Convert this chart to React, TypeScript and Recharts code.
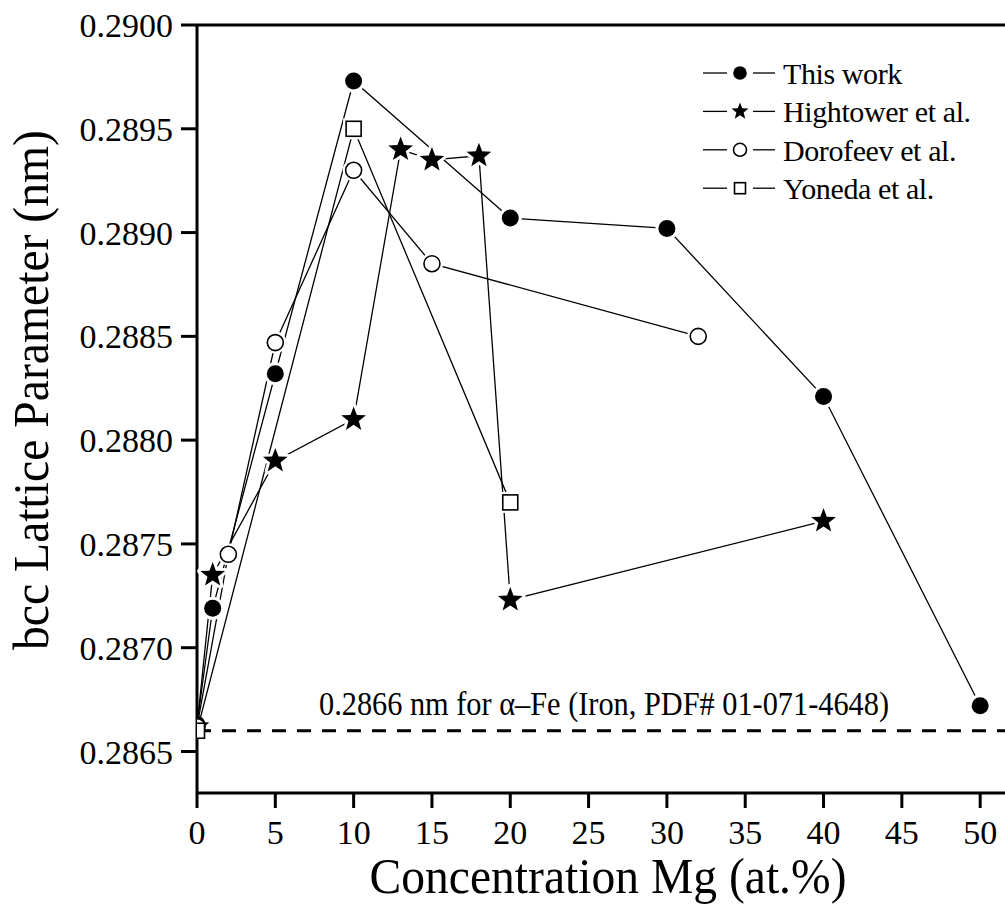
import React from 'react';
import { LineChart, Line, XAxis, YAxis, ReferenceLine, Legend } from 'recharts';

// Mg content (at.%) and bcc lattice parameter (nm) for each data set
const thisWorkMg = [0, 1, 5, 10, 20, 30, 40, 50];
const thisWorkA = [0.28663, 0.28719, 0.28832, 0.28973, 0.28907, 0.28902, 0.28821, 0.28672];

const hightowerMg = [0, 1, 5, 10, 13, 15, 18, 20, 40];
const hightowerA = [0.28662, 0.28735, 0.2879, 0.2881, 0.2894, 0.28935, 0.28937, 0.28723, 0.28761];

const dorofeevMg = [0, 2, 5, 10, 15, 32];
const dorofeevA = [0.28662, 0.28745, 0.28847, 0.2893, 0.28885, 0.2885];

const yonedaMg = [0, 10, 20];
const yonedaA = [0.2866, 0.2895, 0.2877];

const xMajor = [0, 5, 10, 15, 20, 25, 30, 35, 40, 45, 50];
const xMinor = [2.5, 7.5, 12.5, 17.5, 22.5, 27.5, 32.5, 37.5, 42.5, 47.5];
const yMajor = [0.2865, 0.287, 0.2875, 0.288, 0.2885, 0.289, 0.2895, 0.29];
const yMinor = [0.28675, 0.28725, 0.28775, 0.28825, 0.28875, 0.28925, 0.28975];

const ironA = 0.2866;
const ironNote = '0.2866 nm for \u03b1\u2013Fe (Iron, PDF# 01-071-4648)';

const FONT = "'Liberation Serif', 'Times New Roman', serif";

type Kind = 'disc' | 'star' | 'ring' | 'box';

const toPoints = (xs: number[], ys: number[]) => xs.map((x, i) => ({ x, a: ys[i] }));

const SERIES: { name: string; kind: Kind; data: { x: number; a: number }[] }[] = [
  { name: 'This work', kind: 'disc', data: toPoints(thisWorkMg, thisWorkA) },
  { name: 'Hightower et al.', kind: 'star', data: toPoints(hightowerMg, hightowerA) },
  { name: 'Dorofeev et al.', kind: 'ring', data: toPoints(dorofeevMg, dorofeevA) },
  { name: 'Yoneda et al.', kind: 'box', data: toPoints(yonedaMg, yonedaA) },
];

const starPath = (cx: number, cy: number, R: number) => {
  const pts: string[] = [];
  for (let i = 0; i < 10; i++) {
    const ang = (-90 + i * 36) * Math.PI / 180;
    const r = i % 2 ? R * 0.42 : R;
    pts.push(`${cx + r * Math.cos(ang)},${cy + r * Math.sin(ang)}`);
  }
  return pts.join(' ');
};

// symbol drawn on each point; the white halo leaves a small gap in the line
function Marker({ kind, cx, cy, size, halo }: { kind: Kind; cx: number; cy: number; size: number; halo: boolean }) {
  const h = 3;
  if (kind === 'disc') {
    return (
      <g>
        {halo && <circle cx={cx} cy={cy} r={size + h} fill="#fff" />}
        <circle cx={cx} cy={cy} r={size} fill="#000" />
      </g>
    );
  }
  if (kind === 'ring') {
    return (
      <g>
        {halo && <circle cx={cx} cy={cy} r={size + h} fill="#fff" />}
        <circle cx={cx} cy={cy} r={size} fill="#fff" stroke="#000" strokeWidth={1.6} />
      </g>
    );
  }
  if (kind === 'box') {
    return (
      <g>
        {halo && <rect x={cx - size - h} y={cy - size - h} width={2 * (size + h)} height={2 * (size + h)} fill="#fff" />}
        <rect x={cx - size} y={cy - size} width={2 * size} height={2 * size} fill="#fff" stroke="#000" strokeWidth={1.6} />
      </g>
    );
  }
  return (
    <g>
      {halo && <polygon points={starPath(cx, cy, size)} fill="#fff" stroke="#fff" strokeWidth={6} strokeLinejoin="round" />}
      <polygon points={starPath(cx, cy, size)} fill="#000" />
    </g>
  );
}

const plotSize: Record<Kind, number> = { disc: 8.5, star: 13, ring: 8, box: 7.5 };
const legendSize: Record<Kind, number> = { disc: 6.8, star: 9, ring: 6.5, box: 5.5 };

const makeDot = (kind: Kind) => (p: any) => (
  <Marker
    key={`${kind}-${p.index}`}
    kind={kind}
    cx={p.cx}
    cy={p.cy}
    size={plotSize[kind]}
    halo={p.payload && p.payload.x !== 0}
  />
);

const LegendBox = () => (
  <svg width={298} height={160}>
    {SERIES.map((s, i) => {
      const y = 13 + i * 38.4;
      return (
        <g key={s.name}>
          <line x1={0} x2={24} y1={y} y2={y} stroke="#000" strokeWidth={1.3} />
          <line x1={50} x2={72} y1={y} y2={y} stroke="#000" strokeWidth={1.3} />
          <Marker kind={s.kind} cx={37} cy={y} size={legendSize[s.kind]} halo={false} />
          <text x={80} y={y + 11} fontSize={30} style={{ fontFamily: FONT, letterSpacing: -0.4 }} fill="#000">
            {s.name}
          </text>
        </g>
      );
    })}
  </svg>
);

const tickStyle = { fontSize: 34, fontFamily: FONT, fill: '#000' };

export default function App() {
  return (
    <div
      style={{
        position: 'absolute',
        left: 0,
        top: 0,
        width: 1005,
        height: 911,
        overflow: 'hidden',
        background: '#fff',
        fontFamily: FONT,
      }}
    >
      <LineChart width={1020} height={911} margin={{ top: 25, right: 8.5, left: 195, bottom: 116 }}>
        <XAxis
          xAxisId="main"
          type="number"
          dataKey="x"
          domain={[0, 52]}
          ticks={xMajor}
          height={1}
          allowDataOverflow
          axisLine={{ stroke: '#000', strokeWidth: 3 }}
          tickLine={{ stroke: '#000', strokeWidth: 3 }}
          tickSize={15}
          tickMargin={12}
          tick={tickStyle}
          label={{
            content: () => (
              <text
                x={608}
                y={893}
                textAnchor="middle"
                fontSize={50}
                style={{ fontFamily: FONT }}
                fill="#000"
                textLength={477}
                lengthAdjust="spacingAndGlyphs"
              >
                Concentration Mg (at.%)
              </text>
            ),
          }}
        />
        <XAxis
          xAxisId="minor"
          type="number"
          dataKey="x"
          domain={[0, 52]}
          ticks={xMinor}
          height={1}
          allowDataOverflow
          axisLine={false}
          tickLine={{ stroke: '#000', strokeWidth: 3 }}
          tickSize={9}
          tick={false}
        />
        <YAxis
          yAxisId="main"
          type="number"
          domain={[0.2863, 0.29]}
          ticks={yMajor}
          width={1}
          allowDataOverflow
          axisLine={{ stroke: '#000', strokeWidth: 3 }}
          tickLine={{ stroke: '#000', strokeWidth: 3 }}
          tickSize={16}
          tickMargin={8}
          tick={tickStyle}
          tickFormatter={(v: number) => v.toFixed(4)}
          label={{
            content: () => (
              <text
                x={48}
                y={390}
                transform="rotate(-90 48 390)"
                textAnchor="middle"
                fontSize={50}
                style={{ fontFamily: FONT }}
                fill="#000"
                textLength={520}
                lengthAdjust="spacingAndGlyphs"
              >
                bcc Lattice Parameter (nm)
              </text>
            ),
          }}
        />
        <YAxis
          yAxisId="minor"
          type="number"
          domain={[0.2863, 0.29]}
          ticks={yMinor}
          width={1}
          allowDataOverflow
          axisLine={false}
          tickLine={{ stroke: '#000', strokeWidth: 3 }}
          tickSize={10}
          tick={false}
        />
        <ReferenceLine xAxisId="main" yAxisId="main" y={0.29} stroke="#000" strokeWidth={3} />
        <ReferenceLine
          xAxisId="main"
          yAxisId="main"
          y={ironA}
          stroke="#000"
          strokeWidth={3}
          strokeDasharray="14 11"
          label={{
            content: (props: any) => {
              const vb = props.viewBox || { x: 197, y: 731 };
              return (
                <text
                  x={vb.x + 122}
                  y={vb.y - 16}
                  fontSize={33}
                  style={{ fontFamily: FONT }}
                  fill="#000"
                  textLength={570}
                  lengthAdjust="spacingAndGlyphs"
                >
                  {ironNote}
                </text>
              );
            },
          }}
        />
        {SERIES.map((s) => (
          <Line
            key={s.name}
            xAxisId="main"
            yAxisId="main"
            data={s.data}
            dataKey="a"
            name={s.name}
            type="linear"
            stroke="#000"
            strokeWidth={1.3}
            dot={makeDot(s.kind)}
            activeDot={false}
            isAnimationActive={false}
          />
        ))}
        <Legend
          layout="vertical"
          align="center"
          verticalAlign="middle"
          wrapperStyle={{ position: 'absolute', left: 703, top: 60, width: 298 }}
          content={() => <LegendBox />}
        />
      </LineChart>
    </div>
  );
}
